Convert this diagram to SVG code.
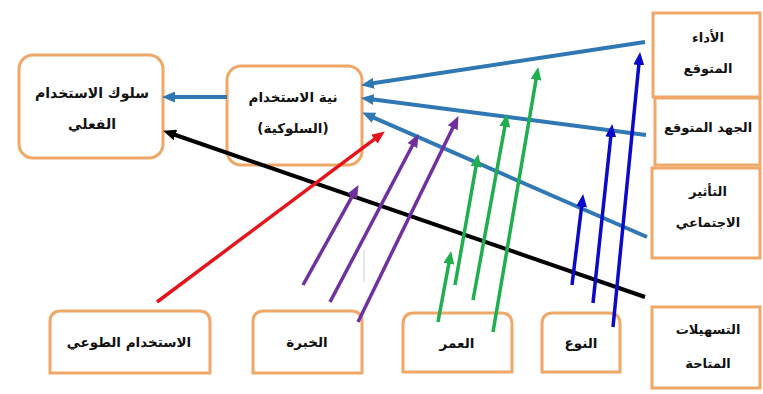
<svg xmlns="http://www.w3.org/2000/svg" width="763" height="394" viewBox="0 0 763 394">
<defs>
<style>
.box{fill:#fff;stroke:#F0A868;stroke-width:3}
.t{font-family:"DejaVu Sans",sans-serif;font-weight:bold;font-size:13.5px;fill:#111;text-anchor:middle;direction:rtl;unicode-bidi:embed}
.s{font-size:13px}
.lb{stroke:#2F78B4;stroke-width:4;fill:none}
.bk{stroke:#000;stroke-width:4;fill:none}
.rd{stroke:#E3141B;stroke-width:3.5;fill:none}
.pu{stroke:#7030A0;stroke-width:3.5;fill:none}
.gr{stroke:#1FAF4E;stroke-width:3.5;fill:none}
.db{stroke:#0A0AC8;stroke-width:3.5;fill:none}
</style>
<marker id="m-lb" markerUnits="userSpaceOnUse" markerWidth="13" markerHeight="11" refX="6" refY="5.5" orient="auto"><path d="M0,0 L13,5.5 L0,11 z" fill="#2F78B4"/></marker>
<marker id="m-bk" markerUnits="userSpaceOnUse" markerWidth="13" markerHeight="11" refX="6" refY="5.5" orient="auto"><path d="M0,0 L13,5.5 L0,11 z" fill="#000"/></marker>
<marker id="m-rd" markerUnits="userSpaceOnUse" markerWidth="13" markerHeight="11" refX="6" refY="5.5" orient="auto"><path d="M0,0 L13,5.5 L0,11 z" fill="#E3141B"/></marker>
<marker id="m-pu" markerUnits="userSpaceOnUse" markerWidth="13" markerHeight="11" refX="6" refY="5.5" orient="auto"><path d="M0,0 L13,5.5 L0,11 z" fill="#7030A0"/></marker>
<marker id="m-gr" markerUnits="userSpaceOnUse" markerWidth="13" markerHeight="11" refX="6" refY="5.5" orient="auto"><path d="M0,0 L13,5.5 L0,11 z" fill="#1FAF4E"/></marker>
<marker id="m-db" markerUnits="userSpaceOnUse" markerWidth="13" markerHeight="11" refX="6" refY="5.5" orient="auto"><path d="M0,0 L13,5.5 L0,11 z" fill="#0A0AC8"/></marker>
</defs>
<rect width="763" height="394" fill="#fff"/>

<g id="nodes">
<g id="actual-use"><rect class="box" x="19" y="55" width="144" height="103" rx="14"/><text class="t" x="92" y="98" style="font-size:14px">سلوك الاستخدام</text><text class="t" x="92" y="129" style="font-size:14px">الفعلي</text></g>
<g id="intention"><rect class="box" x="227" y="66" width="135" height="99" rx="14"/><text class="t" x="293" y="102">نية الاستخدام</text><text class="t" x="293" y="133">(السلوكية)</text></g>
<g id="performance"><rect class="box" x="653" y="13" width="107" height="84"/><text class="t s" x="708" y="42">الأداء</text><text class="t s" x="708" y="73">المتوقع</text></g>
<g id="effort"><rect class="box" x="655" y="98" width="105" height="67"/><text class="t s" x="708" y="132">الجهد المتوقع</text></g>
<g id="social"><rect class="box" x="652" y="168" width="108" height="90"/><text class="t s" x="708" y="196">التأثير</text><text class="t s" x="708" y="227">الاجتماعي</text></g>
<g id="facilitating"><rect class="box" x="652" y="307" width="108" height="81"/><text class="t s" x="708" y="334">التسهيلات</text><text class="t s" x="708" y="368">المتاحة</text></g>
<g id="voluntary"><path class="box" d="M50,373 L50,322 Q50,311 61,311 L199,311 Q210,311 210,322 L210,373 Z"/><text class="t" x="129" y="347">الاستخدام الطوعي</text></g>
<g id="experience"><path class="box" d="M253,373 L253,322 Q253,311 264,311 L351,311 Q362,311 362,322 L362,373 Z"/><text class="t" x="307" y="347">الخبرة</text></g>
<g id="age"><path class="box" d="M403,372 L403,324 Q403,313 414,313 L501,313 Q512,313 512,324 L512,372 Z"/><text class="t" x="457" y="348">العمر</text></g>
<g id="gender"><path class="box" d="M542,372 L542,324 Q542,313 553,313 L609,313 Q620,313 620,324 L620,372 Z"/><text class="t" x="581" y="348">النوع</text></g>
</g>

<g id="connectors">
<line class="lb" x1="227" y1="97" x2="169" y2="97" marker-end="url(#m-lb)"/>
<line class="lb" x1="645" y1="42" x2="367.9" y2="84.1" marker-end="url(#m-lb)"/>
<line class="lb" x1="646" y1="135" x2="367.9" y2="98.8" marker-end="url(#m-lb)"/>
<line class="lb" x1="647" y1="237" x2="368.5" y2="115.4" marker-end="url(#m-lb)"/>
<line class="bk" x1="645" y1="297" x2="169.7" y2="133" marker-end="url(#m-bk)"/>
<line class="rd" x1="157" y1="302" x2="379.2" y2="135.6" marker-end="url(#m-rd)"/>
<line class="pu" x1="303" y1="285" x2="355.1" y2="191.2" marker-end="url(#m-pu)"/>
<line class="pu" x1="330" y1="302" x2="415.2" y2="140.3" marker-end="url(#m-pu)"/>
<line class="pu" x1="358" y1="322" x2="455.4" y2="122.4" marker-end="url(#m-pu)"/>
<line class="gr" x1="438" y1="322" x2="449.9" y2="257.9" marker-end="url(#m-gr)"/>
<line class="gr" x1="455" y1="285" x2="477" y2="160.9" marker-end="url(#m-gr)"/>
<line class="gr" x1="473" y1="300" x2="505.9" y2="120.9" marker-end="url(#m-gr)"/>
<line class="gr" x1="493" y1="332" x2="537" y2="73.9" marker-end="url(#m-gr)"/>
<line class="db" x1="572" y1="285" x2="582.3" y2="201" marker-end="url(#m-db)"/>
<line class="db" x1="593" y1="303" x2="611.4" y2="131" marker-end="url(#m-db)"/>
<line class="db" x1="613" y1="327" x2="639.4" y2="59" marker-end="url(#m-db)"/>
</g>
<line x1="364" y1="250" x2="364" y2="282" stroke="#cfcfcf" stroke-width="1"/>
</svg>
